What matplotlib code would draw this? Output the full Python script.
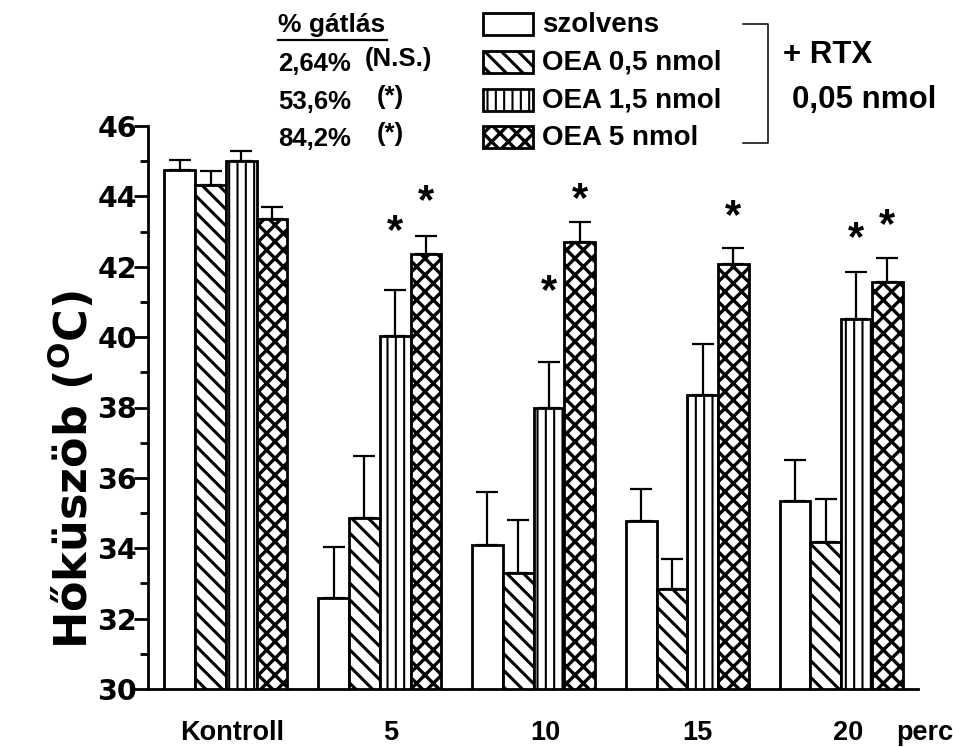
import matplotlib
matplotlib.use("Agg")
import matplotlib.pyplot as plt
import numpy as np
from matplotlib.patches import Rectangle
from matplotlib.lines import Line2D
from matplotlib.transforms import ScaledTranslation

plt.rcParams["font.family"] = ["Liberation Sans", "DejaVu Sans"]
plt.rcParams["font.weight"] = "bold"
plt.rcParams["mathtext.fontset"] = "dejavusans"

# ---- data -------------------------------------------------------------
groups = ["Kontroll", "5", "10", "15", "20"]
series = ["szolvens", "OEA 0,5 nmol", "OEA 1,5 nmol", "OEA 5 nmol"]

szolvens = [44.74, 32.60, 34.10, 34.78, 35.35]
szolvens_err = [0.30, 1.43, 1.49, 0.91, 1.15]
oea_05 = [44.33, 34.87, 33.29, 32.85, 34.18]
oea_05_err = [0.38, 1.76, 1.52, 0.84, 1.23]
oea_15 = [45.00, 40.02, 37.98, 38.36, 40.52]
oea_15_err = [0.28, 1.33, 1.31, 1.45, 1.34]
oea_5 = [43.36, 42.37, 42.71, 42.08, 41.57]
oea_5_err = [0.35, 0.51, 0.57, 0.44, 0.68]

inhibition = ["2,64%", "53,6%", "84,2%"]
significance = ["(N.S.)", "(*)", "(*)"]

# significant bars as (time point, series) and the height of each asterisk
star_bars = [(1, 2), (1, 3), (2, 2), (2, 3), (3, 3), (4, 2), (4, 3)]
star_heights = [43.19, 44.04, 41.48, 44.10, 43.60, 42.97, 43.34]

# ---- styling ----------------------------------------------------------
hatches = ["", "\\\\", "||", "xx"]
hatch_lw = [1.0, 2.2, 1.5, 2.4]
W, H = 954, 747


def fpx(x, y):
    """pixel position (from top-left) -> figure fraction"""
    return x / W, 1 - y / H


def styled_patch(p, k):
    if hasattr(p, "set_hatch_linewidth"):
        p.set_hatch_linewidth(hatch_lw[k])


fig = plt.figure(figsize=(W / 100, H / 100), dpi=100)
ax = fig.add_axes([148 / W, 58 / H, 770 / W, 563 / H])

means = [szolvens, oea_05, oea_15, oea_5]
errors = [szolvens_err, oea_05_err, oea_15_err, oea_5_err]
x = np.arange(len(groups))
width = 0.2

for k in range(len(series)):
    plt.rcParams["hatch.linewidth"] = hatch_lw[k]
    pos = x + (k - 1.5) * width
    bars = ax.bar(pos, means[k], width, color="white", edgecolor="black",
                  linewidth=2.0, hatch=hatches[k], label=series[k], zorder=2)
    for p in bars:
        styled_patch(p, k)
    ax.errorbar(pos, means[k], yerr=[np.zeros(len(groups)), errors[k]],
                fmt="none", ecolor="black", elinewidth=1.6, capsize=8,
                capthick=1.6, zorder=3)

for (g, k), h in zip(star_bars, star_heights):
    fs = 30
    off = ScaledTranslation(0, -0.43 * fs / 72, fig.dpi_scale_trans)
    ax.text(g + (k - 1.5) * width, h, "*", ha="center", va="baseline",
            fontsize=fs, fontweight="bold", transform=ax.transData + off)

ax.set_ylim(30, 46)
ax.set_xlim(-0.507, 4.5)
for s in ("top", "right"):
    ax.spines[s].set_visible(False)
ax.spines["left"].set_bounds(30, 46)
ax.spines["left"].set_linewidth(2.0)
ax.spines["bottom"].set_linewidth(2.0)

yt = list(range(30, 47, 2))
ax.set_yticks(yt, labels=[str(v) for v in yt], fontfamily="DejaVu Sans",
              fontsize=20.5, fontweight="bold")
ax.set_yticks(range(30, 47), minor=True)
ax.tick_params(axis="y", which="major", length=10, width=2, pad=-2)
ax.tick_params(axis="y", which="minor", length=6, width=2)

label_nudge = [0.04, 0.07, 0.075, 0.063, 0.045]
ax.set_xticks(x + np.array(label_nudge), labels=groups, fontsize=19.5,
              fontweight="bold")
ax.tick_params(axis="x", length=0, pad=22)

fig.text(*fpx(925, 733), "perc", ha="center", va="center", fontsize=19.5,
         fontweight="bold")

fig.text(*fpx(88, 470), "Hőküszöb (${}^{\\mathbf{O}}$C)", rotation=90,
         rotation_mode="anchor", ha="center", va="baseline",
         fontfamily="DejaVu Sans", fontsize=32, fontweight="bold")

# ---- legend block -----------------------------------------------------
rows_y = [24, 62, 100, 137]
for k, yc in enumerate(rows_y):
    plt.rcParams["hatch.linewidth"] = hatch_lw[k]
    x0, y0 = fpx(483, yc + 11)
    r = Rectangle((x0, y0), 50 / W, 22 / H, transform=fig.transFigure,
                  facecolor="white", edgecolor="black", linewidth=2.0,
                  hatch=hatches[k])
    styled_patch(r, k)
    fig.add_artist(r)
    fig.text(*fpx(542, yc + 1), series[k], ha="left", va="center",
             fontsize=20, fontweight="bold")

# bracket grouping the treatments with RTX
bx = [743 / W, 768 / W, 768 / W, 743 / W]
by = [1 - 24 / H, 1 - 24 / H, 1 - 143 / H, 1 - 143 / H]
fig.add_artist(Line2D(bx, by, transform=fig.transFigure, color="black",
                      linewidth=1.1))
fig.text(*fpx(783, 55), "+ RTX", ha="left", va="center", fontsize=22.5,
         fontweight="bold")
fig.text(*fpx(792, 100), "0,05 nmol", ha="left", va="center", fontsize=22.5,
         fontweight="bold")

# ---- inhibition percentages ------------------------------------------
fig.text(*fpx(278, 25), "% gátlás", ha="left", va="center", fontsize=19,
         fontweight="bold")
fig.add_artist(Line2D([278 / W, 387 / W], [1 - 40 / H, 1 - 40 / H],
                      transform=fig.transFigure, color="black", linewidth=1.6))
sig_x = [365, 377, 377]
for i, (pct, sig) in enumerate(zip(inhibition, significance)):
    yc = rows_y[i + 1] + 2
    fig.text(*fpx(278, yc), pct, ha="left", va="center", fontsize=18.5,
             fontweight="bold")
    fig.text(*fpx(sig_x[i], yc - 5), sig, ha="left", va="center",
             fontsize=18.5, fontweight="bold")

fig.savefig("out.png", dpi=100)
